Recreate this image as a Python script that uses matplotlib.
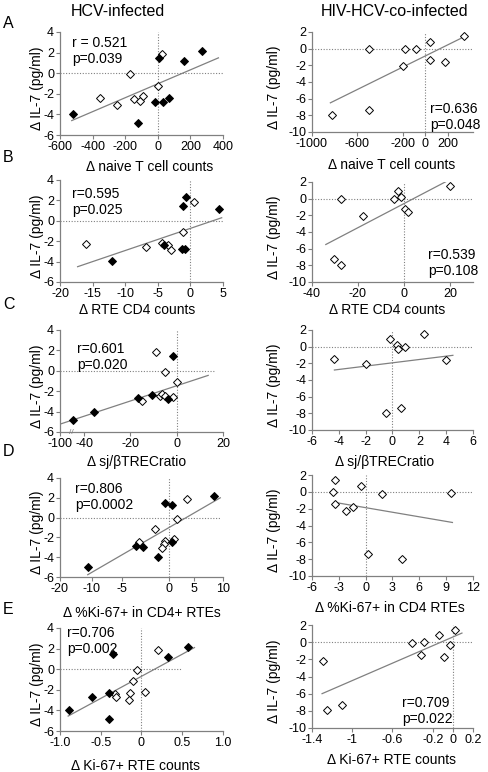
import matplotlib
matplotlib.use('Agg')
import matplotlib.pyplot as plt

plt.rcParams['font.family'] = ['Liberation Sans', 'DejaVu Sans']
plt.rcParams['axes.unicode_minus'] = False

W, H = 489, 772
GREY = '#808080'

# ---- A: naive T cell counts
a_hcv_open_x = [-352, -248, -170, -145, -110, -89, 4, 27]
a_hcv_open_y = [-2.37, -3.05, -0.06, -2.47, -2.66, -2.24, -1.2, 1.82]
a_hcv_fill_x = [-520, -120, -17, 10, 30, 68, 161, 273]
a_hcv_fill_y = [-4.0, -4.87, -2.75, 1.43, -2.8, -2.4, 1.17, 2.14]
a_hcv_fit_x = [-528, 372]
a_hcv_fit_y = [-4.6, 1.49]
a_hiv_x = [-824, -500, -500, -182, -82, -197, 38, 38, 170, 338]
a_hiv_y = [-8.0, -7.3, 0.0, -0.1, 0.0, -2.1, 0.8, -1.4, -1.6, 1.5]
a_hiv_fit_x = [-838, 330]
a_hiv_fit_y = [-6.5, 1.35]

# ---- B: RTE CD4 counts
b_hcv_open_x = [-16.0, -6.75, -4.4, -3.5, -2.9, -1.1, 0.5]
b_hcv_open_y = [-2.26, -2.55, -2.16, -2.39, -2.9, -1.1, 1.8]
b_hcv_fill_x = [-12.0, -4.1, -1.2, -0.6, -1.3, -0.8, 4.4]
b_hcv_fill_y = [-3.9, -2.4, 1.48, 2.29, -2.75, -2.75, 1.2]
b_hcv_fit_x = [-17.3, 4.8]
b_hcv_fit_y = [-4.5, 0.3]
b_hiv_x = [-27.3, -18.0, -30.4, -27.3, -4.3, -2.6, -1.4, 0.6, 1.7, 20.1]
b_hiv_y = [0.0, -2.1, -7.3, -8.0, -0.1, 0.9, 0.2, -1.3, -1.6, 1.5]
b_hiv_fit_x = [-34, 20]
b_hiv_fit_y = [-5.5, 2.3]

# ---- C: sj/beta TREC ratio (left axis broken, -100 shown at the axis end)
c_hcv_open_x = [-15.0, -8.9, -7.0, -6.2, -5.05, -5.05, -1.7, 0.3]
c_hcv_open_y = [-2.97, 1.82, -2.45, -2.26, -2.48, -0.13, -2.58, -1.1]
c_hcv_fill_x = [-44.9, -35.6, -16.8, -10.8, -3.6, -1.7]
c_hcv_fill_y = [-4.85, -4.04, -2.7, -2.39, -2.74, 1.47]
c_hcv_fit_x = [-50.4, 13.6]
c_hcv_fit_y = [-5.23, -0.45]
c_hiv_x = [-4.33, -2.0, -0.15, 0.3, 0.4, 0.9, 2.35, 4.0, -0.47, 0.64]
c_hiv_y = [-1.5, -2.1, 0.9, 0.2, -0.3, 0.0, 1.5, -1.6, -8.0, -7.3]
c_hiv_fit_x = [-4.33, 4.5]
c_hiv_fit_y = [-2.8, -1.04]

# ---- D: %Ki-67+ in CD4 RTEs
d_hcv_open_x = [-5.4, -2.5, -0.64, -0.95, -1.25, 0.9, 1.6, 3.36]
d_hcv_open_y = [-2.43, -1.2, -2.33, -2.67, -3.1, -2.2, -0.1, 1.9]
d_hcv_fill_x = [-14.9, -6.0, -4.76, -2.0, -0.76, 0.6, 0.7, 8.4]
d_hcv_fill_y = [-5.0, -2.87, -2.93, -4.03, 1.5, -2.5, 1.23, 2.23]
d_hcv_fit_x = [-14.9, 9.5]
d_hcv_fit_y = [-5.77, 2.0]
d_hiv_x = [-3.48, -3.67, -3.4, -2.19, -1.37, -0.56, 1.78, 9.5, 0.3, 4.1]
d_hiv_y = [1.38, 0.0, -1.46, -2.25, -1.78, 0.71, -0.28, -0.12, -7.43, -8.0]
d_hiv_fit_x = [-3.2, 9.7]
d_hiv_fit_y = [-1.3, -3.64]

# ---- E: Ki-67+ RTE counts
e_hcv_open_x = [-0.33, -0.31, -0.14, -0.15, -0.1, -0.06, 0.04, 0.2]
e_hcv_open_y = [-2.45, -2.7, -2.35, -3.0, -1.15, -0.05, -2.25, 1.82]
e_hcv_fill_x = [-0.89, -0.61, -0.4, -0.4, -0.355, 0.33, 0.575]
e_hcv_fill_y = [-3.96, -2.66, -2.34, -4.84, 1.46, 1.2, 2.14]
e_hcv_fit_x = [-0.9, 0.65]
e_hcv_fit_y = [-4.55, 2.1]
e_hiv_x = [-1.29, -1.25, -1.1, -0.41, -0.29, -0.32, -0.14, -0.09, -0.026, 0.017]
e_hiv_y = [-2.16, -7.96, -7.33, -0.12, 0.0, -1.49, 0.78, -1.69, -0.31, 1.37]
e_hiv_fit_x = [-1.3, 0.09]
e_hiv_fit_y = [-6.0, 1.06]

left_yticks = [-6, -4, -2, 0, 2, 4]
right_yticks = [-10, -8, -6, -4, -2, 0, 2]

fig = plt.figure(figsize=(W / 100, H / 100), dpi=100)


def panel(box, xlim, ylim, xticks, xticklabels, yticks, xlabel, xlab_px, ylab_px,
          ox, oy, fx, fy, fit_x, fit_y, stat=None, stat_px=None, hline_to=None):
    x0, top, x1, bottom = box
    ax = fig.add_axes([x0 / W, 1 - bottom / H, (x1 - x0) / W, (bottom - top) / H])
    ax.set_xlim(xlim)
    ax.set_ylim(ylim)
    ax.set_xticks(xticks)
    ax.set_xticklabels(xticklabels)
    ax.set_yticks(yticks)
    ax.set_yticklabels([str(t) for t in yticks])
    for s in ['top', 'right']:
        ax.spines[s].set_visible(False)
    for s in ['left', 'bottom']:
        ax.spines[s].set_color(GREY)
        ax.spines[s].set_linewidth(0.9)
    ax.tick_params(direction='out', length=3, width=0.8, color=GREY,
                   labelsize=9, pad=1.2)
    # dotted zero lines
    xe = xlim[1] if hline_to is None else hline_to
    ax.plot([xlim[0], xe], [0, 0], color=GREY, lw=0.8, ls=(0, (1, 1.5)), zorder=1)
    ax.axvline(0, color=GREY, lw=0.8, ls=(0, (1, 1.5)), zorder=1)
    ax.plot(fit_x, fit_y, color=GREY, lw=0.9, zorder=2)
    ax.plot(ox, oy, 'D', ms=4.2, mfc='white', mec='black', mew=0.7, ls='none', zorder=3)
    if fx:
        ax.plot(fx, fy, 'D', ms=4.2, mfc='black', mec='black', mew=0.7, ls='none', zorder=3)
    w, h = x1 - x0, bottom - top
    ax.set_xlabel(xlabel, fontsize=10)
    ax.xaxis.label.set_va('center')
    ax.xaxis.set_label_coords((xlab_px[0] - x0) / w, (bottom - xlab_px[1]) / h)
    ax.set_ylabel('Δ IL-7 (pg/ml)', fontsize=10)
    ax.yaxis.label.set_va('center')
    ax.yaxis.set_label_coords((ylab_px - x0) / w, 0.45)
    if stat:
        ax.text((stat_px[0] - x0) / w, (bottom - stat_px[1]) / h, stat,
                transform=ax.transAxes, ha='left', va='top', fontsize=10,
                linespacing=1.15)
    return ax


L = (60, 223)
R = (312, 473)
YL_L, YL_R = 37, 274

# row A
panel((L[0], 32, L[1], 135), (-600, 400), (-6, 4), [-600, -400, -200, 0, 200, 400],
      ['-600', '-400', '-200', '0', '200', '400'], left_yticks,
      'Δ naive T cell counts', (150, 167), YL_L,
      a_hcv_open_x, a_hcv_open_y, a_hcv_fill_x, a_hcv_fill_y, a_hcv_fit_x, a_hcv_fit_y,
      'r = 0.521\np=0.039', (72, 36))
panel((R[0], 32, R[1], 132), (-1000, 420), (-10, 2), [-1000, -600, -200, 0, 200],
      ['-1000', '-600', '-200', '0', '200'], right_yticks,
      'Δ naive T cell counts', (392, 165), YL_R,
      a_hiv_x, a_hiv_y, [], [], a_hiv_fit_x, a_hiv_fit_y,
      'r=0.636\np=0.048', (430, 102))

# row B
panel((L[0], 180, L[1], 282), (-20, 5), (-6, 4), [-20, -15, -10, -5, 0, 5],
      ['-20', '-15', '-10', '-5', '0', '5'], left_yticks,
      'Δ RTE CD4 counts', (137, 310), YL_L,
      b_hcv_open_x, b_hcv_open_y, b_hcv_fill_x, b_hcv_fill_y, b_hcv_fit_x, b_hcv_fit_y,
      'r=0.595\np=0.025', (72, 187))
panel((R[0], 182, R[1], 282), (-40, 30), (-10, 2), [-40, -20, 0, 20],
      ['-40', '-20', '0', '20'], right_yticks,
      'Δ RTE CD4 counts', (387, 310), YL_R,
      b_hiv_x, b_hiv_y, [], [], b_hiv_fit_x, b_hiv_fit_y,
      'r=0.539\np=0.108', (428, 248))

# row C
axc = panel((L[0], 330, L[1], 432), (-50.4, 20), (-6, 4), [-50.4, -40, -20, 0, 20],
            ['-100', '-40', '-20', '0', '20'], left_yticks,
            'Δ sj/βTRECratio', (137, 462), YL_L,
            c_hcv_open_x, c_hcv_open_y, c_hcv_fill_x, c_hcv_fill_y, c_hcv_fit_x, c_hcv_fit_y,
            'r=0.601\np=0.020', (77, 342), hline_to=16)
axc.text(-45.3, 0, '//', transform=axc.get_xaxis_transform(), ha='center', va='center',
         fontsize=6, color=GREY)
panel((R[0], 330, R[1], 430), (-6, 6), (-10, 2), [-6, -4, -2, 0, 2, 4, 6],
      ['-6', '-4', '-2', '0', '2', '4', '6'], right_yticks,
      'Δ sj/βTRECratio', (385, 462), YL_R,
      c_hiv_x, c_hiv_y, [], [], c_hiv_fit_x, c_hiv_fit_y)

# row D
panel((L[0], 478, L[1], 577), (-20, 10), (-6, 4), [-20, -14.2, -8.6, 0, 4.7, 10],
      ['-20', '-10', '-5', '0', '5', '10'], left_yticks,
      'Δ %Ki-67+ in CD4+ RTEs', (142, 613), YL_L,
      d_hcv_open_x, d_hcv_open_y, d_hcv_fill_x, d_hcv_fill_y, d_hcv_fit_x, d_hcv_fit_y,
      'r=0.806\np=0.0002', (75, 482), hline_to=9.5)
panel((R[0], 475, R[1], 576), (-6, 12), (-10, 2), [-6, -3, 0, 3, 6, 9, 12],
      ['-6', '-3', '0', '3', '6', '9', '12'], right_yticks,
      'Δ %Ki-67+ in CD4 RTEs', (390, 608), YL_R,
      d_hiv_x, d_hiv_y, [], [], d_hiv_fit_x, d_hiv_fit_y)

# row E
panel((L[0], 628, L[1], 731), (-1.0, 1.0), (-6, 4), [-1.0, -0.5, 0, 0.5, 1.0],
      ['-1.0', '-0.5', '0', '0.5', '1.0'], left_yticks,
      'Δ Ki-67+ RTE counts', (136, 766), YL_L,
      e_hcv_open_x, e_hcv_open_y, e_hcv_fill_x, e_hcv_fill_y, e_hcv_fit_x, e_hcv_fit_y,
      'r=0.706\np=0.002', (67, 626), hline_to=0.5)
panel((R[0], 625, R[1], 728), (-1.4, 0.2), (-10, 2), [-1.4, -1.0, -0.6, -0.2, 0, 0.2],
      ['-1.4', '-1', '-0.6', '-0.2', '0', '0.2'], right_yticks,
      'Δ Ki-67+ RTE counts', (392, 760), YL_R,
      e_hiv_x, e_hiv_y, [], [], e_hiv_fit_x, e_hiv_fit_y,
      'r=0.709\np=0.022', (402, 696))

# titles and panel letters
fig.text(118 / W, 1 - 12 / H, 'HCV-infected', ha='center', va='center', fontsize=11.5)
fig.text(395 / W, 1 - 12 / H, 'HIV-HCV-co-infected', ha='center', va='center', fontsize=11.5)
for letter, y in zip('ABCDE', [23, 158, 304, 452, 610]):
    fig.text(3 / W, 1 - y / H, letter, ha='left', va='center', fontsize=11.5)

fig.savefig('out.png', dpi=100)
